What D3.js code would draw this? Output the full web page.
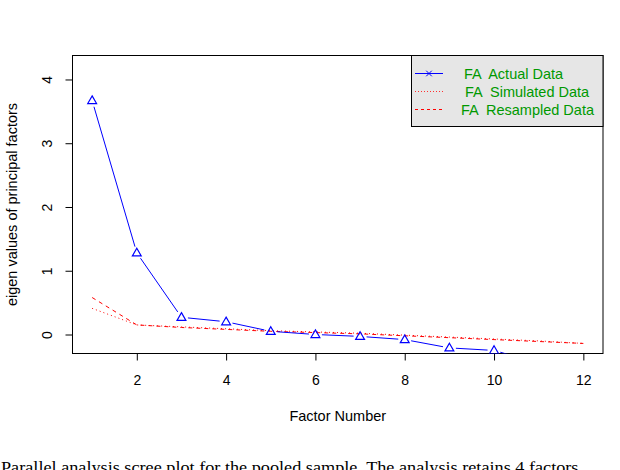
<!DOCTYPE html>
<html><head><meta charset="utf-8">
<script src="https://cdn.jsdelivr.net/npm/d3@7"></script>
<style>body{margin:0;background:#fff;}svg{display:block;}text{white-space:pre;}</style>
</head><body>
<svg id="c" width="620" height="470"></svg>
<script>
const factors = [1,2,3,4,5,6,7,8,9,10,11,12];
const actual = [3.67,1.28,0.27,0.20,0.05,0.00,-0.03,-0.08,-0.21,-0.25,-0.45,-0.60];
const simulated = [0.41,0.15,0.12,0.09,0.06,0.04,0.02,-0.01,-0.04,-0.07,-0.10,-0.14];
const resampled = [0.58,0.15,0.11,0.08,0.05,0.03,0.01,-0.02,-0.05,-0.08,-0.11,-0.14];
const xTicks = [2,4,6,8,10,12];
const yTicks = [0,1,2,3,4];
const legendLabels = ["FA  Actual Data","FA  Simulated Data","FA  Resampled Data"];
const caption = "Parallel analysis scree plot for the pooled sample. The analysis retains 4 factors.";

const svg = d3.select("#c");
const L=72.5, R=603, T=55.5, B=353.5;
const x = d3.scaleLinear().domain([0.56,12.44]).range([L,R]);
const y = d3.scaleLinear().domain([-0.298,4.376]).range([B,T]);
const sans = "Liberation Sans, Arial, Helvetica, sans-serif";
const fs = 14;

svg.append("defs").append("clipPath").attr("id","clip")
  .append("rect").attr("x",L).attr("y",T).attr("width",R-L).attr("height",B-T);

// axes
const xa = svg.append("g").attr("transform",`translate(0,${B})`)
  .call(d3.axisBottom(x).tickValues(xTicks).tickFormat(d3.format("d")).tickSize(7).tickPadding(15).tickSizeOuter(0));
xa.select(".domain").remove();
xa.selectAll("text").attr("font-family",sans).attr("font-size",fs).attr("fill","#000");
xa.selectAll("line").attr("stroke","#000");

const ya = svg.append("g").attr("transform",`translate(${L},0)`)
  .call(d3.axisLeft(y).tickValues(yTicks).tickFormat(d3.format("d")).tickSize(7).tickSizeOuter(0));
ya.select(".domain").remove();
ya.selectAll("line").attr("stroke","#000");
ya.selectAll(".tick text").attr("font-family",sans).attr("font-size",fs).attr("fill","#000")
  .attr("text-anchor","middle").attr("x",0).attr("y",0)
  .attr("transform","translate(-25.5,0) rotate(-90)").attr("dy","0.35em");

svg.append("rect").attr("x",L).attr("y",T).attr("width",R-L).attr("height",B-T)
  .attr("fill","none").attr("stroke","#000").attr("stroke-width",1);

svg.append("text").attr("x",(L+R)/2).attr("y",421).attr("text-anchor","middle")
  .attr("font-family",sans).attr("font-size",fs+0.5).text("Factor Number");
svg.append("text").attr("transform",`translate(17,${(T+B)/2}) rotate(-90)`).attr("text-anchor","middle")
  .attr("font-family",sans).attr("font-size",fs+0.5).text("eigen values of principal factors");

const plot = svg.append("g").attr("clip-path","url(#clip)");
const line = d3.line().x((d,i)=>x(factors[i])).y(d=>y(d));

plot.append("path").datum(simulated).attr("d",line).attr("fill","none")
  .attr("stroke","#ff0000").attr("stroke-width",1).attr("stroke-dasharray","1,3");
plot.append("path").datum(resampled).attr("d",line).attr("fill","none")
  .attr("stroke","#ff0000").attr("stroke-width",1).attr("stroke-dasharray","4,4");

// actual: type "b" segments with gaps
const gap = 6.5;
const segs = d3.pairs(actual.map((v,i)=>[x(factors[i]),y(v)]));
plot.selectAll("line.seg").data(segs).join("line").attr("class","seg")
  .each(function([a,b]){
    const dx=b[0]-a[0], dy=b[1]-a[1], len=Math.hypot(dx,dy);
    const ux=dx/len, uy=dy/len;
    d3.select(this).attr("x1",a[0]+ux*gap).attr("y1",a[1]+uy*gap)
      .attr("x2",b[0]-ux*gap).attr("y2",b[1]-uy*gap);
  }).attr("stroke","#0000ff").attr("stroke-width",1);
const tri = d3.symbol().type(d3.symbolTriangle).size(34);
plot.selectAll("path.tri").data(actual).join("path").attr("class","tri")
  .attr("d",tri).attr("transform",(d,i)=>`translate(${x(factors[i])},${y(d)+0.5})`)
  .attr("fill","none").attr("stroke","#0000ff").attr("stroke-width",1.2);

// legend
const lg = svg.append("g");
lg.append("rect").attr("x",411.5).attr("y",T).attr("width",R-411.5).attr("height",71)
  .attr("fill","#e6e6e6").attr("stroke","#000");
const rowY = [73.5,91.5,109.5];
const styles = [
  {c:"#0000ff",dash:null,w:1},
  {c:"#ff3030",dash:"1,2",w:1},
  {c:"#ff0000",dash:"3,3",w:1.2}];
const textX = [464,465,461];
legendLabels.forEach((t,i)=>{
  lg.append("line").attr("x1",415).attr("x2",443).attr("y1",rowY[i]).attr("y2",rowY[i])
    .attr("stroke",styles[i].c).attr("stroke-width",styles[i].w).attr("stroke-dasharray",styles[i].dash);
  lg.append("text").attr("x",textX[i]).attr("y",rowY[i]+5)
    .attr("font-family",sans).attr("font-size",fs+0.5).attr("fill","#009900").text(t);
});
lg.append("path").attr("d",d3.symbol().type(d3.symbolX).size(22))
  .attr("transform",`translate(429,${rowY[0]})`).attr("stroke","#0000ff").attr("fill","none");

svg.append("text").attr("x",1).attr("y",473).attr("font-family","Liberation Serif, Times New Roman, serif")
  .attr("font-size",16).attr("textLength",582).attr("lengthAdjust","spacingAndGlyphs").text(caption);
</script>
</body></html>
